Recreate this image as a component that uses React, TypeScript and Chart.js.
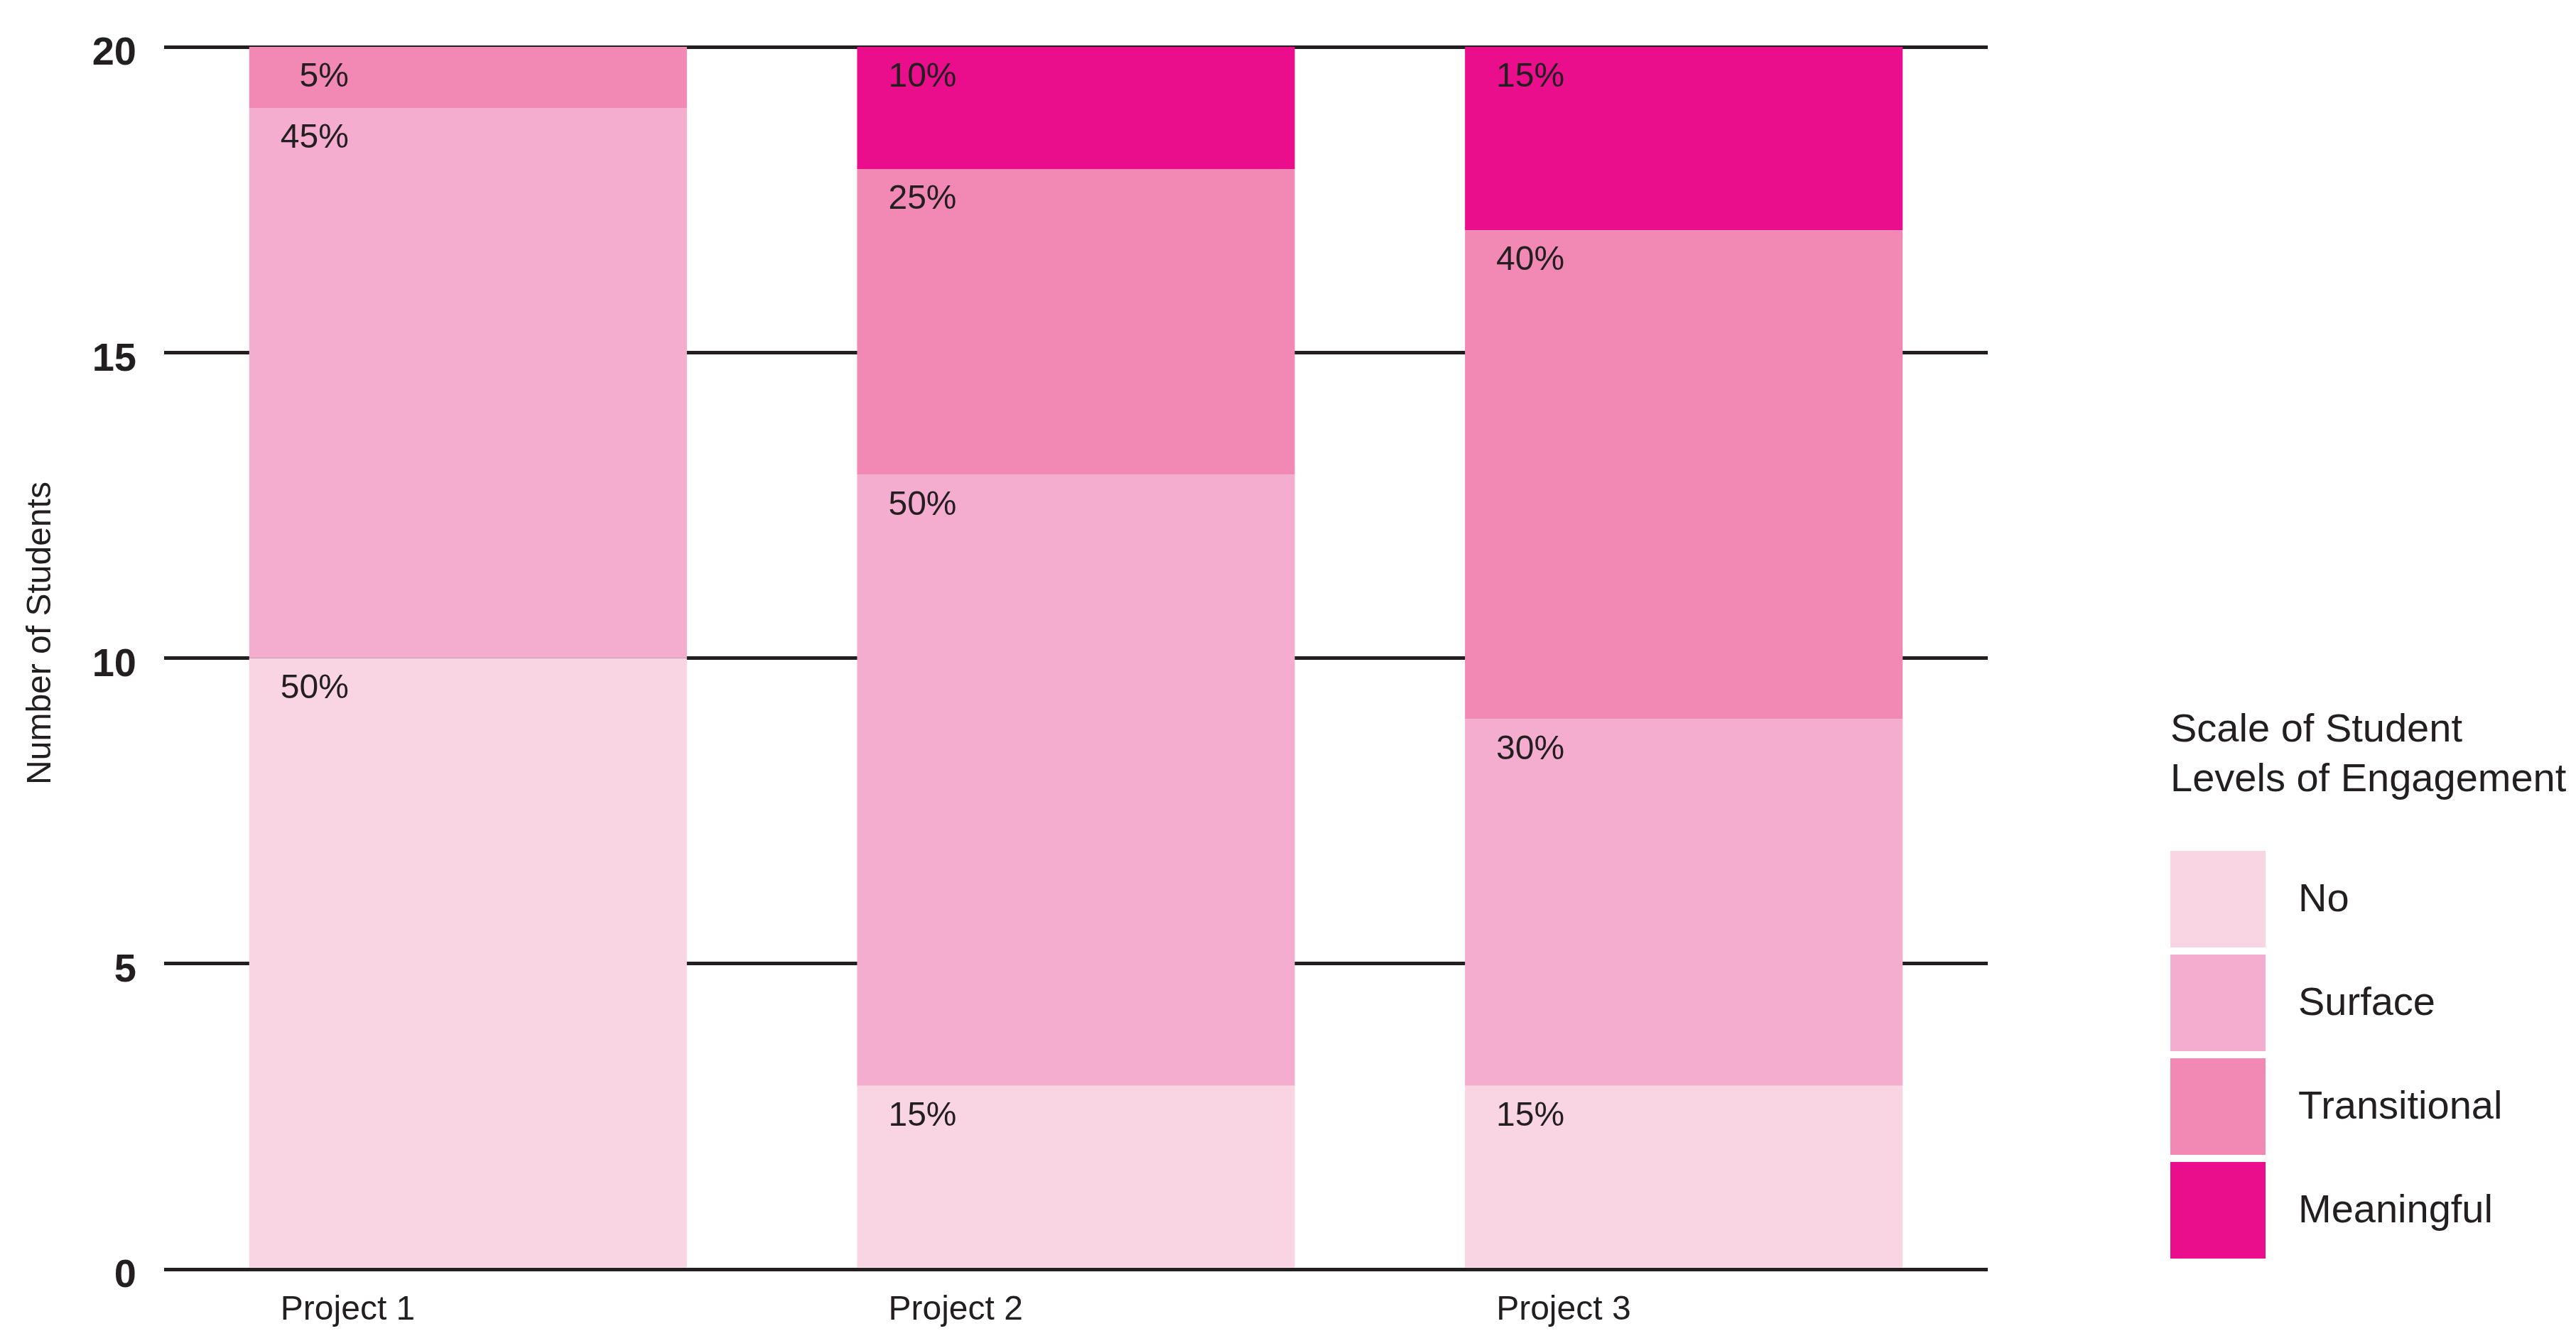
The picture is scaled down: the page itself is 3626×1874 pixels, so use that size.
import React, { useEffect, useRef } from "react";
import { Chart, registerables } from "chart.js";

Chart.register(...registerables);

const categories = ["Project 1", "Project 2", "Project 3"];
const seriesNames = ["No", "Surface", "Transitional", "Meaningful"];
const noValues = [10, 3, 3];
const surfaceValues = [9, 10, 6];
const transitionalValues = [1, 5, 8];
const meaningfulValues = [0, 2, 3];
const yTicks = [0, 5, 10, 15, 20];
const yTitle = "Number of Students";
const legendTitle = ["Scale of Student", "Levels of Engagement"];
const seriesColors = ["#F9D5E3", "#F4ADCE", "#F288B4", "#EB0E8C"];

const FONT = "'Liberation Sans', Arial, Helvetica, sans-serif";
const INK = "#231F20";

const overlayPlugin = {
  id: "overlay",
  afterDatasetsDraw(chart: any) {
    const ctx = chart.ctx;
    const area = chart.chartArea;
    const xScale = chart.scales.x;
    ctx.save();
    ctx.fillStyle = INK;

    // segment percentage labels
    ctx.font = `48px ${FONT}`;
    ctx.textAlign = "right";
    ctx.textBaseline = "middle";
    const totals = categories.map((_, j) =>
      chart.data.datasets.reduce((s: number, d: any) => s + (d.data[j] || 0), 0)
    );
    chart.data.datasets.forEach((ds: any, i: number) => {
      const meta = chart.getDatasetMeta(i);
      meta.data.forEach((el: any, j: number) => {
        const v = ds.data[j];
        if (!v) return;
        const pct = Math.round((v / totals[j]) * 100) + "%";
        ctx.fillText(pct, el.x - 168, el.y + 43);
      });
    });

    // category labels
    ctx.textAlign = "left";
    categories.forEach((c, j) => {
      ctx.fillText(c, xScale.getPixelForValue(j) - 264, area.bottom + 58);
    });

    // y-axis title
    ctx.save();
    ctx.translate(58, (area.top + area.bottom) / 2 - 35);
    ctx.rotate(-Math.PI / 2);
    ctx.textAlign = "center";
    ctx.textBaseline = "middle";
    ctx.fillText(yTitle, 0, 0);
    ctx.restore();

    // legend
    const lx = area.right + 257;
    ctx.font = `56px ${FONT}`;
    ctx.textAlign = "left";
    ctx.textBaseline = "middle";
    legendTitle.forEach((t, k) => {
      ctx.fillText(t, lx, 1029 + k * 70);
    });
    seriesNames.forEach((name, k) => {
      const top = 1198 + k * 146;
      ctx.fillStyle = seriesColors[k];
      ctx.fillRect(lx, top, 134, 136);
      ctx.fillStyle = INK;
      ctx.fillText(name, lx + 180, top + 70);
    });
    ctx.restore();
  },
};

export default function App() {
  const ref = useRef<HTMLCanvasElement | null>(null);
  useEffect(() => {
    document.body.style.margin = "0";
    const canvas = ref.current;
    if (!canvas) return;
    const seriesData = [noValues, surfaceValues, transitionalValues, meaningfulValues];
    const chart = new Chart(canvas, {
      type: "bar",
      data: {
        labels: categories,
        datasets: seriesNames.map((name, i) => ({
          label: name,
          data: seriesData[i],
          backgroundColor: seriesColors[i],
          borderWidth: 0,
          categoryPercentage: 1,
          barPercentage: 0.72,
        })),
      },
      options: {
        responsive: false,
        animation: false,
        devicePixelRatio: 1,
        layout: { padding: { top: 66, right: 828, bottom: 87, left: 0 } },
        plugins: { legend: { display: false }, tooltip: { enabled: false } },
        scales: {
          x: {
            stacked: true,
            grid: { display: false },
            border: { display: false },
            ticks: { display: false },
            afterFit: (s: any) => {
              s.height = 0;
              s.paddingLeft = 0;
              s.paddingRight = 0;
            },
          },
          y: {
            stacked: true,
            min: 0,
            max: 20,
            afterBuildTicks: (s: any) => {
              s.ticks = yTicks.map((v) => ({ value: v }));
            },
            afterFit: (s: any) => {
              s.width = 231;
              s.paddingTop = 0;
              s.paddingBottom = 0;
            },
            grid: { color: INK, lineWidth: 5, drawTicks: false },
            border: { display: false },
            ticks: {
              color: INK,
              padding: 39,
              labelOffset: 10,
              font: { family: FONT, size: 56, weight: "bold" },
            },
          },
        },
      },
      plugins: [overlayPlugin],
    });
    return () => chart.destroy();
  }, []);
  return (
    <canvas
      ref={ref}
      width={3626}
      height={1874}
      style={{ display: "block", width: "3626px", height: "1874px" }}
    />
  );
}
